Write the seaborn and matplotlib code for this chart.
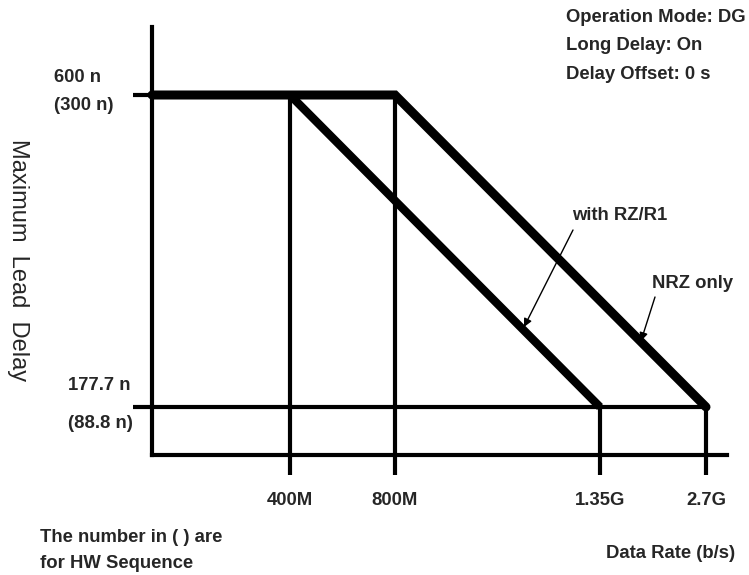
import matplotlib
matplotlib.use("Agg")
import matplotlib.pyplot as plt
import matplotlib.transforms as mtransforms
import seaborn as sns
from matplotlib import font_manager

# ---------------------------------------------------------------
# Schematic data (diagram units, x = data-rate axis, y = delay axis)
# ---------------------------------------------------------------
rate_labels = ["400M", "800M", "1.35G", "2.7G"]
rate_pos = [138, 243, 448, 554]

delay_top = ["600 n", "177.7 n"]
delay_bottom = ["(300 n)", "(88.8 n)"]
delay_pos = [360, 48]

# NRZ only: flat to 800M, then falls to floor at 2.7G
nrz_x = [0, 243, 554]
nrz_y = [360, 360, 48]

# with RZ/R1: starts falling at 400M, reaches floor at 1.35G
rz_x = [138, 448]
rz_y = [360, 48]

# floor line
floor_x = [0, 554]
floor_y = [48, 48]

info_lines = ["Operation Mode: DG", "Long Delay: On", "Delay Offset: 0 s"]

# ---------------------------------------------------------------
sns.set_style("white")

names = {f.name for f in font_manager.fontManager.ttflist}
narrow = ["Liberation Sans Narrow"] if "Liberation Sans Narrow" in names else []
BOLD = narrow + ["Liberation Sans", "DejaVu Sans"]
REG = ["Liberation Sans", "DejaVu Sans"]
FS = 13.3

fig = plt.figure(figsize=(7.49, 5.75), dpi=100)
ax = fig.add_axes([152 / 749, 1 - 455 / 575, 575 / 749, 428 / 575])
ax.set_xlim(0, 575)
ax.set_ylim(0, 428)

sns.lineplot(x=nrz_x, y=nrz_y, ax=ax, color="black", lw=6.5, sort=False,
             solid_joinstyle="miter", clip_on=False)
sns.lineplot(x=rz_x, y=rz_y, ax=ax, color="black", lw=6, sort=False,
             solid_capstyle="butt", clip_on=False)
sns.lineplot(x=floor_x, y=floor_y, ax=ax, color="black", lw=3, sort=False, clip_on=False)

# vertical guides at the break points
tops = [delay_pos[0], delay_pos[0], delay_pos[1], delay_pos[1]]
ax.vlines(rate_pos, 0, tops, color="black", lw=3)

sns.despine(ax=ax)
for s in ["left", "bottom"]:
    ax.spines[s].set_linewidth(3)
    ax.spines[s].set_color("black")

ax.set_xticks(rate_pos)
ax.set_xticklabels(rate_labels, family=BOLD, fontweight="bold", fontsize=FS)
ax.set_yticks(delay_pos)
ax.set_yticklabels([])
ax.tick_params(axis="x", length=14.5, width=3, color="black", pad=12, direction="out", bottom=True)
ax.tick_params(axis="y", length=14, width=3, color="black", direction="out", left=True)
ax.grid(False)

# two-line y labels, left aligned beside each level
ytrans = mtransforms.blended_transform_factory(ax.transAxes, ax.transData)
for y, top, bot, dx, up, down in zip(delay_pos, delay_top, delay_bottom,
                                     [-98, -84], [18, 22], [-10, -16]):
    ax.annotate(top, xy=(0, y), xycoords=ytrans, xytext=(dx, up),
                textcoords="offset pixels", ha="left", va="center",
                family=BOLD, fontweight="bold", fontsize=FS)
    ax.annotate(bot, xy=(0, y), xycoords=ytrans, xytext=(dx, down),
                textcoords="offset pixels", ha="left", va="center",
                family=BOLD, fontweight="bold", fontsize=FS)

# callouts
arrow = dict(arrowstyle="-|>", color="black", lw=1, mutation_scale=12,
             shrinkA=0, shrinkB=0)
ax.text(420, 240, "with RZ/R1", family=BOLD, fontweight="bold", fontsize=FS,
        ha="left", va="center")
ax.annotate("", xy=(372, 128), xytext=(421, 225), arrowprops=arrow)
ax.text(500, 172, "NRZ only", family=BOLD, fontweight="bold", fontsize=FS,
        ha="left", va="center")
ax.annotate("", xy=(489, 114), xytext=(503, 158), arrowprops=arrow)

# free text around the axes
for i, line in enumerate(info_lines):
    fig.text(566 / 749, 1 - (18 + 28 * i) / 575, line, family=BOLD,
             fontweight="bold", fontsize=FS, ha="left", va="center")
fig.text(18 / 749, 1 - 260 / 575, "Maximum  Lead  Delay", family=REG,
         fontsize=17, rotation=-90, ha="center", va="center")
fig.text(40 / 749, 1 - 537 / 575, "The number in ( ) are", family=BOLD,
         fontweight="bold", fontsize=FS, ha="left", va="center")
fig.text(40 / 749, 1 - 563 / 575, "for HW Sequence", family=REG,
         fontweight="bold", fontsize=FS, ha="left", va="center")
fig.text(735 / 749, 1 - 553 / 575, "Data Rate (b/s)", family=BOLD,
         fontweight="bold", fontsize=FS, ha="right", va="center")

fig.savefig("out.png", dpi=100)
